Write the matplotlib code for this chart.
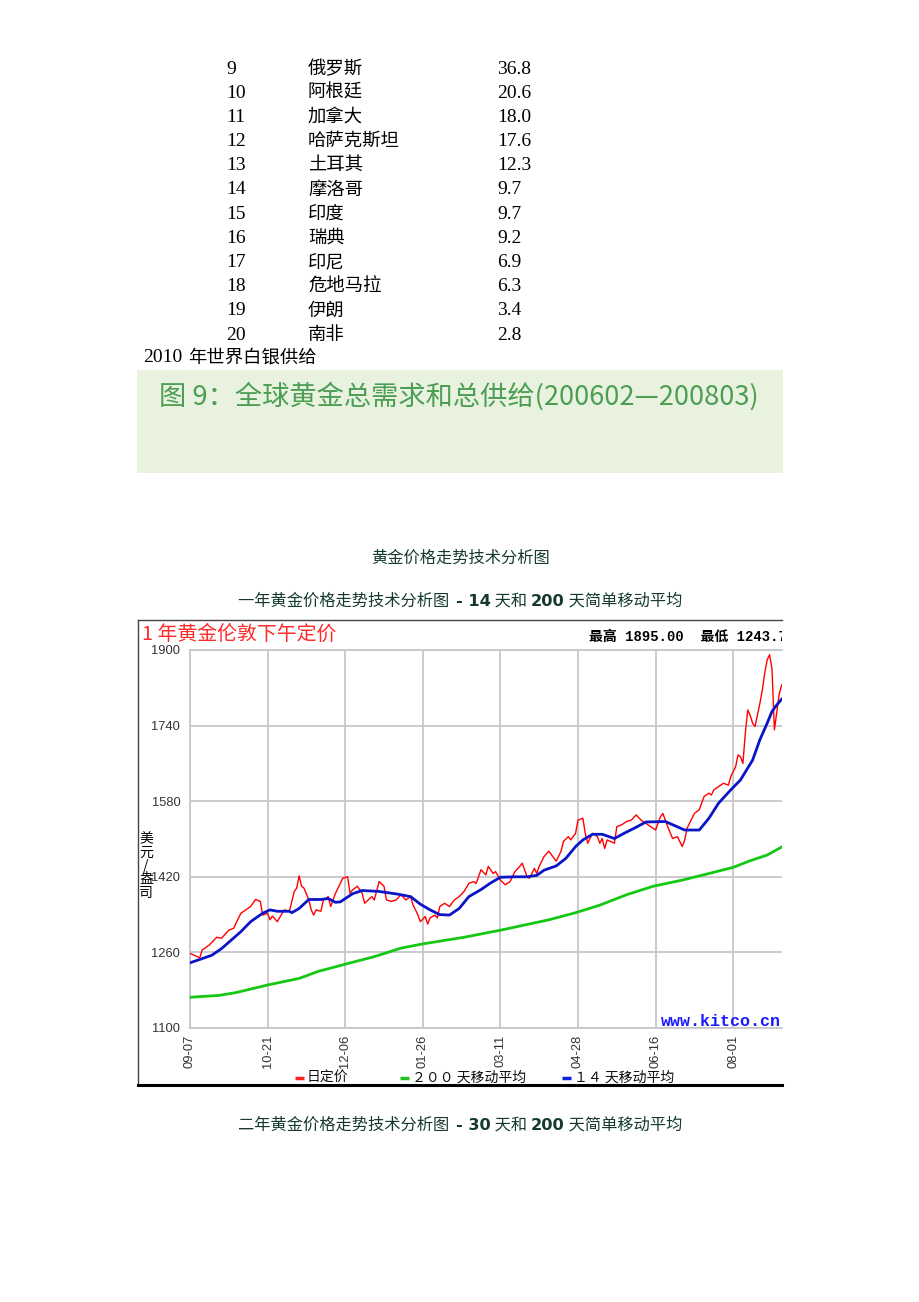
import numpy as np, matplotlib
matplotlib.use('Agg'); import matplotlib.pyplot as plt

# table: 2010 silver producers (rank, country, output)
ranks = [9, 10, 11, 12, 13, 14, 15, 16, 17, 18, 19, 20]
countries = ['俄罗斯', '阿根廷', '加拿大', '哈萨克斯坦', '土耳其', '摩洛哥', '印度', '瑞典', '印尼', '危地马拉', '伊朗', '南非']
output = [36.8, 20.6, 18.0, 17.6, 12.3, 9.7, 9.7, 9.2, 6.9, 6.3, 3.4, 2.8]

# gold chart, x = trading day since 09-07
price_day = [0, 3, 4, 5, 8, 11, 13, 16, 18, 19, 21, 23, 25, 27, 29, 30, 32, 33, 34, 36, 38, 39, 41, 43, 44, 45, 46, 47,
             49, 50, 51, 52, 54, 55, 57, 58, 60, 62, 63, 65, 66, 67, 69, 71, 72, 75, 76, 78, 80, 81, 83, 85, 87, 89, 91,
             92, 93, 94, 95, 97, 98, 99, 101, 102, 103, 105, 107, 109, 111, 113, 115, 117, 118, 120, 122, 123, 125, 126,
             128, 130, 132, 134, 136, 137, 139, 140, 142, 143, 144, 146, 148, 149, 151, 153, 154, 156, 157, 159, 160, 162,
             163, 164, 166, 168, 169, 170, 171, 172, 175, 176, 178, 180, 182, 184, 186, 188, 190, 192, 194, 195, 197, 199,
             201, 203, 204, 205, 208, 210, 212, 214, 215, 216, 218, 220, 222, 223, 225, 226, 227, 228, 229, 230, 231, 232,
             233, 235, 236, 237, 238, 239, 240, 241, 242, 243, 244]
price = [1258, 1251, 1248, 1265, 1276, 1292, 1290, 1307, 1311, 1322, 1343, 1350, 1357, 1372, 1368, 1339, 1343, 1329,
         1337, 1325, 1343, 1350, 1347, 1389, 1396, 1422, 1400, 1396, 1371, 1350, 1339, 1350, 1347, 1371, 1378, 1357,
         1385, 1406, 1417, 1420, 1385, 1392, 1400, 1385, 1364, 1378, 1371, 1410, 1400, 1371, 1368, 1371, 1382, 1371,
         1378, 1360, 1350, 1339, 1325, 1336, 1320, 1333, 1339, 1333, 1357, 1364, 1357, 1371, 1378, 1389, 1406, 1410,
         1406, 1435, 1424, 1442, 1427, 1431, 1413, 1403, 1410, 1431, 1442, 1449, 1420, 1417, 1438, 1427, 1442, 1463,
         1474, 1467, 1453, 1474, 1495, 1505, 1498, 1512, 1540, 1544, 1512, 1491, 1512, 1505, 1491, 1501, 1480, 1498,
         1491, 1526, 1530, 1537, 1540, 1551, 1540, 1533, 1526, 1519, 1547, 1554, 1526, 1501, 1505, 1484, 1498, 1523,
         1554, 1562, 1590, 1597, 1593, 1604, 1611, 1618, 1614, 1632, 1653, 1678, 1674, 1660, 1724, 1773, 1762, 1745,
         1738, 1787, 1815, 1851, 1879, 1890, 1860, 1731, 1770, 1808, 1826]
ma14_day = [0, 4, 9, 13, 17, 21, 25, 30, 33, 36, 41, 42, 45, 49, 54, 57, 60, 62, 67, 71, 78, 86, 91, 95, 99, 103, 107,
            111, 115, 120, 124, 128, 134, 139, 143, 146, 151, 155, 159, 162, 166, 170, 175, 179, 184, 188, 196, 200,
            204, 210, 214, 218, 223, 227, 232, 235, 238, 240, 242, 244]
ma14 = [1238, 1245, 1254, 1268, 1286, 1304, 1325, 1343, 1350, 1347, 1347, 1344, 1353, 1372, 1372, 1374, 1366, 1367,
        1384, 1391, 1389, 1383, 1378, 1362, 1350, 1340, 1339, 1353, 1378, 1393, 1407, 1419, 1420, 1420, 1423, 1434,
        1443, 1459, 1484, 1498, 1510, 1510, 1501, 1512, 1525, 1536, 1537, 1528, 1519, 1519, 1544, 1576, 1604, 1625,
        1667, 1710, 1745, 1770, 1784, 1796]
ma200_day = [0, 12, 19, 32, 45, 53, 64, 76, 87, 96, 113, 128, 148, 159, 169, 180, 191, 203, 214, 224, 231, 238, 244]
ma200 = [1165, 1169, 1175, 1191, 1205, 1220, 1235, 1251, 1269, 1278, 1292, 1307, 1329, 1344, 1360, 1382, 1400, 1413,
         1427, 1440, 1454, 1466, 1483]
tick_days = [0, 32, 64, 96, 128, 160, 192, 224]
tick_labels = ['09-07', '10-21', '12-06', '01-26', '03-11', '04-28', '06-16', '08-01']
y_ticks = [1100, 1260, 1420, 1580, 1740, 1900]

W, H = 920, 1302
CJK = 'Noto Sans CJK SC'
SERIF = ['Liberation Serif', CJK]
fig = plt.figure(figsize=(W / 100, H / 100), dpi=100)

def fx(x): return x / W
def fy(y): return 1 - y / H

# table part
for i, (r, c, v) in enumerate(zip(ranks, countries, output)):
    y = 69 + i * 24.2
    fig.text(fx(226), fy(y), str(r), fontsize=14, family=SERIF, va='center')
    fig.text(fx(308), fy(y), c, fontsize=13.2, family=SERIF, va='center')
    fig.text(fx(497), fy(y), '%.1f' % v, fontsize=14, family=SERIF, va='center')
fig.text(fx(143), fy(358), '2010', fontsize=14, family=SERIF, va='center')
fig.text(fx(188), fy(358), '年世界白银供给', fontsize=13.2, family=SERIF, va='center')

# green caption band
band = fig.add_axes([fx(137), fy(473), (783 - 137) / W, (473 - 370) / H])
band.set_facecolor('#e8f2df'); band.set_xticks([]); band.set_yticks([])
for s in band.spines.values(): s.set_visible(False)
fig.text(fx(159), fy(396), '图 9：全球黄金总需求和总供给(200602—200803)', fontsize=19.6,
         family=[CJK], color='#4b9e54', va='center', fontweight='light')

# headings with bold numbers
def mixed_line(y, parts):
    r = fig.canvas.get_renderer()
    ts = []
    for s, bold in parts:
        fam = ['DejaVu Sans'] if bold else [CJK]
        ts.append(fig.text(0, fy(y), s, fontsize=11.7, family=fam, color='#153a2c',
                           fontweight='bold' if bold else 'medium', va='center'))
    ws = [t.get_window_extent(r).width for t in ts]
    x = (W - sum(ws)) / 2
    for t, w in zip(ts, ws):
        t.set_x(fx(x)); x += w

mixed_line(558, [('黄金价格走势技术分析图', False)])
mixed_line(601, [('一年黄金价格走势技术分析图  ', False), ('- 14', True), (' 天和 ', False), ('200', True),
                 (' 天简单移动平均', False)])
mixed_line(1125, [('二年黄金价格走势技术分析图  ', False), ('- 30', True), (' 天和 ', False), ('200', True),
                  (' 天简单移动平均', False)])

# chart frame (cut at the right edge like the page)
L, R, T, B = 138, 782, 620, 1085
fa = fig.add_axes([fx(L), fy(B), (R - L) / W, (B - T) / H])
fa.set_xlim(0, 1); fa.set_ylim(0, 1); fa.set_xticks([]); fa.set_yticks([])
fa.spines['right'].set_visible(False)
fa.spines['bottom'].set_linewidth(2.2)
for s in ['left', 'top']: fa.spines[s].set_linewidth(1.0); fa.spines[s].set_color('#444444')

def fp(x, y): return ((x - L) / (R - L), (B - y) / (B - T))

fa.text(*fp(142, 634), '1 年黄金伦敦下午定价', fontsize=14.3, family=[CJK], color='#ff2a2a', va='center',
        fontweight='light')
fa.text(*fp(589, 637), '最高 1895.00  最低 1243.75', fontsize=10, family=['Liberation Mono', CJK],
        fontweight='bold', va='center', clip_on=True)
fa.text(*fp(146, 866), '美\n元\n/\n盎\n司', fontsize=10, family=[CJK], va='center', ha='center',
        linespacing=0.95)
for x0, col, lab in [(295, '#ff2020', '日定价'), (400, '#20c020', '２００ 天移动平均'), (562, '#1020e0', '１４ 天移动平均')]:
    fa.plot([fp(x0, 0)[0], fp(x0 + 9, 0)[0]], [fp(0, 1078)[1]] * 2, color=col, lw=2.5, solid_capstyle='butt')
    fa.text(*fp(x0 + 12, 1078), lab, fontsize=10, family=[CJK], va='center', color='#111111')

# plot area
ax = fig.add_axes([fx(190), fy(1028), (782 - 190) / W, (1028 - 650) / H])
ax.set_facecolor('none')
ax.plot(price_day, price, color='#ff0000', lw=1.0, zorder=3)
ax.plot(ma200_day, ma200, color='#14c814', lw=2.0, zorder=4)
ax.plot(ma14_day, ma14, color='#0a14c8', lw=2.0, zorder=5)
ax.set_xlim(0, (782 - 190) / 2.425)
ax.set_ylim(1100, 1900)
ax.set_yticks(y_ticks)
ax.set_yticklabels([str(v) for v in y_ticks], fontsize=9.3, color='#333333', family='Liberation Sans')
ax.set_xticks(tick_days)
ax.set_xticklabels(tick_labels, rotation=90, fontsize=9.3, color='#333333', family='Liberation Sans', va='top')
ax.tick_params(axis='y', length=0, pad=7)
ax.tick_params(axis='x', length=0, pad=5)
ax.grid(color='#c6c6cc', lw=1.3, zorder=1)
ax.set_axisbelow(True)
for s in ['left', 'top', 'bottom']: ax.spines[s].set_color('#c6c6cc'); ax.spines[s].set_linewidth(1.3)
ax.spines['right'].set_visible(False)
ax.text(0.7955, 0.016, 'www.kitco.cn', transform=ax.transAxes, fontsize=12, family='Liberation Mono',
        fontweight='bold', color='#1a1aff', va='center', clip_on=True, zorder=6)

fig.savefig('out.png', dpi=100)
